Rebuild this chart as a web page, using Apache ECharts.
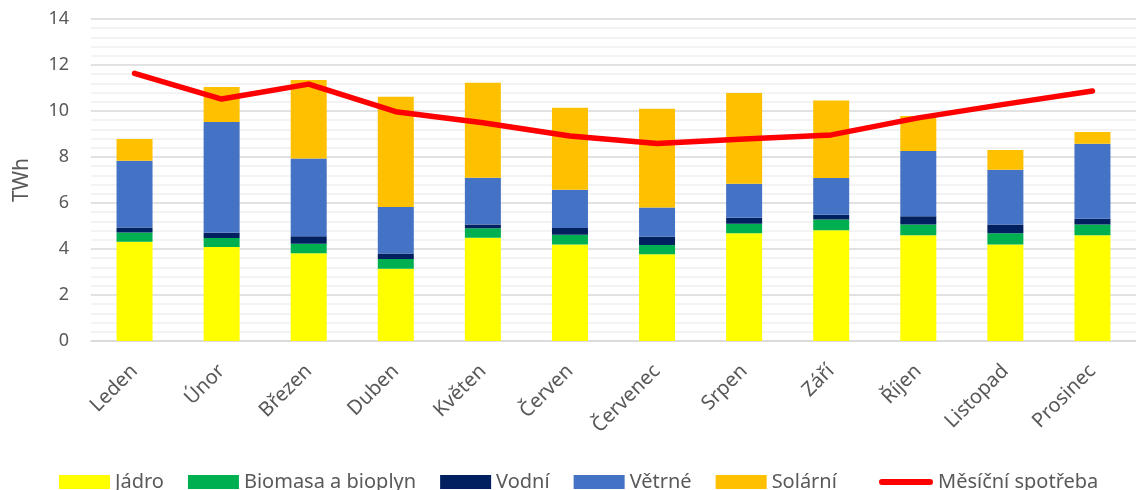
<!DOCTYPE html>
<html>
<head>
<meta charset="utf-8">
<script src="https://cdn.jsdelivr.net/npm/echarts@6/dist/echarts.min.js"></script>
<style>
  html, body { margin: 0; padding: 0; background: #fff; }
  #chart { width: 1136px; height: 490px; }
</style>
</head>
<body>
<div id="chart"></div>
<script>
// měsíce
var months = ['Leden', 'Únor', 'Březen', 'Duben', 'Květen', 'Červen',
  'Červenec', 'Srpen', 'Září', 'Říjen', 'Listopad', 'Prosinec'];

// výroba podle zdroje (TWh)
var jadro   = [4.32, 4.09, 3.81, 3.14, 4.49, 4.20, 3.77, 4.68, 4.81, 4.60, 4.20, 4.60];
var biomasa = [0.40, 0.39, 0.42, 0.43, 0.41, 0.42, 0.40, 0.42, 0.47, 0.46, 0.48, 0.46];
var vodni   = [0.21, 0.23, 0.32, 0.23, 0.17, 0.29, 0.36, 0.26, 0.21, 0.36, 0.38, 0.26];
var vetrne  = [2.91, 4.81, 3.38, 2.03, 2.03, 1.67, 1.27, 1.48, 1.60, 2.84, 2.39, 3.26];
var solarni = [0.94, 1.52, 3.42, 4.79, 4.13, 3.56, 4.30, 3.94, 3.37, 1.52, 0.85, 0.51];

// měsíční spotřeba (TWh)
var spotreba = [11.64, 10.52, 11.17, 9.97, 9.49, 8.91, 8.59, 8.78, 8.96, 9.70, 10.30, 10.87];

var font = 'Noto Sans';
var grey = '#595959';

var myChart = echarts.init(document.getElementById('chart'));

function barSeries(name, color, data) {
  return {
    name: name,
    type: 'bar',
    stack: 'vyroba',
    barWidth: 36,
    itemStyle: { color: color },
    data: data
  };
}

var legendText = { color: grey, fontSize: 20, fontFamily: font };

myChart.setOption({
  animation: false,
  textStyle: { fontFamily: font },
  grid: {
    left: 91,
    right: -15,
    top: 19,
    bottom: 149
  },
  legend: [{
    left: 54,
    top: 467,
    itemWidth: 51,
    itemHeight: 14,
    itemGap: 24,
    icon: 'rect',
    textStyle: legendText,
    data: ['Jádro', 'Biomasa a bioplyn', 'Vodní', 'Větrné', 'Solární']
  }, {
    left: 874,
    top: 467,
    itemWidth: 54,
    itemHeight: 6,
    icon: 'path://M3,0 L51,0 A3,3 0 0 1 51,6 L3,6 A3,3 0 0 1 3,0 Z',
    itemStyle: { color: '#FF0000' },
    textStyle: legendText,
    data: ['Měsíční spotřeba']
  }],
  xAxis: {
    type: 'category',
    data: months,
    axisLine: { lineStyle: { color: '#D9D9D9', width: 1.5 } },
    axisTick: { show: false },
    axisLabel: {
      rotate: 45,
      margin: 27,
      color: grey,
      fontSize: 20,
      fontFamily: font
    }
  },
  yAxis: {
    type: 'value',
    min: 0,
    max: 14,
    interval: 2,
    name: 'TWh',
    nameLocation: 'middle',
    nameGap: 58,
    nameRotate: 90,
    nameTextStyle: { color: grey, fontSize: 21, fontFamily: font },
    axisLine: { show: false },
    axisTick: { show: false },
    axisLabel: { margin: 22, color: grey, fontSize: 18, fontFamily: font },
    splitLine: { lineStyle: { color: '#D9D9D9', width: 1.5 } },
    minorTick: { show: false, splitNumber: 5 },
    minorSplitLine: { show: true, lineStyle: { color: '#F0F0F0', width: 1.5 } }
  },
  series: [
    barSeries('Jádro', '#FFFF00', jadro),
    barSeries('Biomasa a bioplyn', '#00B050', biomasa),
    barSeries('Vodní', '#002060', vodni),
    barSeries('Větrné', '#4472C4', vetrne),
    barSeries('Solární', '#FFC000', solarni),
    {
      name: 'Měsíční spotřeba',
      type: 'line',
      symbol: 'none',
      z: 5,
      lineStyle: { color: '#FF0000', width: 5.5, cap: 'round', join: 'round' },
      itemStyle: { color: '#FF0000' },
      data: spotreba
    }
  ]
});
</script>
</body>
</html>
